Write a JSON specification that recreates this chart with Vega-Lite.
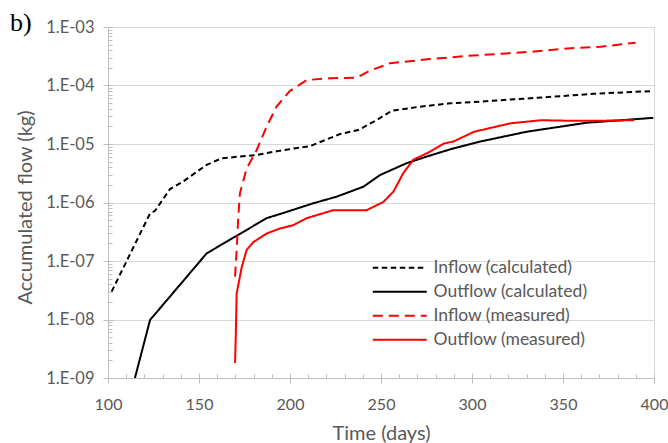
{
  "$schema": "https://vega.github.io/schema/vega-lite/v6.json",
  "width": 546,
  "height": 351,
  "autosize": {"type": "none"},
  "padding": {"left": 108, "top": 27, "right": 14, "bottom": 65},
  "background": "white",
  "config": {
    "view": {"stroke": "#d9d9d9", "strokeWidth": 1},
    "font": "Lato",
    "legend": {
      "orient": "none",
      "legendX": 283,
      "legendY": 232,
      "symbolType": "M-4,0H4",
      "symbolSize": 182,
      "symbolStrokeWidth": 2,
      "labelFontSize": 17.5,
      "labelColor": "#595959",
      "labelFont": "Lato",
      "rowPadding": 5,
      "labelOffset": 25
    }
  },
  "title": {
    "text": "b)",
    "anchor": "start",
    "frame": "group",
    "font": "Liberation Serif",
    "fontSize": 26,
    "fontWeight": "normal",
    "color": "black",
    "offset": 0,
    "dx": -98,
    "dy": 38,
    "baseline": "alphabetic"
  },
  "data": {
    "values": [
      {"s": "Inflow (calculated)", "t": 102.0, "v": 3.0e-8},
      {"s": "Inflow (calculated)", "t": 123.1, "v": 6.5e-7},
      {"s": "Inflow (calculated)", "t": 125.8, "v": 7.2e-7},
      {"s": "Inflow (calculated)", "t": 134.1, "v": 1.7e-6},
      {"s": "Inflow (calculated)", "t": 141.4, "v": 2.3e-6},
      {"s": "Inflow (calculated)", "t": 154.2, "v": 4.4e-6},
      {"s": "Inflow (calculated)", "t": 162.5, "v": 5.7e-6},
      {"s": "Inflow (calculated)", "t": 181.7, "v": 6.5e-6},
      {"s": "Inflow (calculated)", "t": 194.5, "v": 7.7e-6},
      {"s": "Inflow (calculated)", "t": 211.0, "v": 9.2e-6},
      {"s": "Inflow (calculated)", "t": 227.5, "v": 1.48e-5},
      {"s": "Inflow (calculated)", "t": 237.5, "v": 1.73e-5},
      {"s": "Inflow (calculated)", "t": 247.6, "v": 2.57e-5},
      {"s": "Inflow (calculated)", "t": 255.9, "v": 3.7e-5},
      {"s": "Inflow (calculated)", "t": 271.4, "v": 4.35e-5},
      {"s": "Inflow (calculated)", "t": 287.9, "v": 4.95e-5},
      {"s": "Inflow (calculated)", "t": 304.4, "v": 5.3e-5},
      {"s": "Inflow (calculated)", "t": 330.0, "v": 6.0e-5},
      {"s": "Inflow (calculated)", "t": 366.6, "v": 7.2e-5},
      {"s": "Inflow (calculated)", "t": 399.6, "v": 8.05e-5},
      {"s": "Outflow (calculated)", "t": 114.8, "v": 1.0e-9},
      {"s": "Outflow (calculated)", "t": 123.1, "v": 9.8e-9},
      {"s": "Outflow (calculated)", "t": 154.2, "v": 1.35e-7},
      {"s": "Outflow (calculated)", "t": 170.7, "v": 2.7e-7},
      {"s": "Outflow (calculated)", "t": 187.2, "v": 5.4e-7},
      {"s": "Outflow (calculated)", "t": 194.5, "v": 6.35e-7},
      {"s": "Outflow (calculated)", "t": 212.8, "v": 9.7e-7},
      {"s": "Outflow (calculated)", "t": 225.7, "v": 1.26e-6},
      {"s": "Outflow (calculated)", "t": 240.3, "v": 1.86e-6},
      {"s": "Outflow (calculated)", "t": 249.5, "v": 2.95e-6},
      {"s": "Outflow (calculated)", "t": 264.1, "v": 4.7e-6},
      {"s": "Outflow (calculated)", "t": 275.1, "v": 6.1e-6},
      {"s": "Outflow (calculated)", "t": 289.7, "v": 8.4e-6},
      {"s": "Outflow (calculated)", "t": 304.4, "v": 1.1e-5},
      {"s": "Outflow (calculated)", "t": 330.0, "v": 1.62e-5},
      {"s": "Outflow (calculated)", "t": 363.0, "v": 2.31e-5},
      {"s": "Outflow (calculated)", "t": 399.6, "v": 2.8e-5},
      {"s": "Inflow (measured)", "t": 169.8, "v": 5.4e-8},
      {"s": "Inflow (measured)", "t": 170.7, "v": 1.55e-7},
      {"s": "Inflow (measured)", "t": 171.6, "v": 5.8e-7},
      {"s": "Inflow (measured)", "t": 172.5, "v": 1.45e-6},
      {"s": "Inflow (measured)", "t": 176.2, "v": 3.8e-6},
      {"s": "Inflow (measured)", "t": 181.7, "v": 7.9e-6},
      {"s": "Inflow (measured)", "t": 187.2, "v": 2.0e-5},
      {"s": "Inflow (measured)", "t": 192.7, "v": 4.4e-5},
      {"s": "Inflow (measured)", "t": 200.0, "v": 8.1e-5},
      {"s": "Inflow (measured)", "t": 209.2, "v": 1.24e-4},
      {"s": "Inflow (measured)", "t": 222.0, "v": 1.33e-4},
      {"s": "Inflow (measured)", "t": 236.6, "v": 1.36e-4},
      {"s": "Inflow (measured)", "t": 244.0, "v": 1.8e-4},
      {"s": "Inflow (measured)", "t": 255.0, "v": 2.4e-4},
      {"s": "Inflow (measured)", "t": 275.4, "v": 2.8e-4},
      {"s": "Inflow (measured)", "t": 297.4, "v": 3.2e-4},
      {"s": "Inflow (measured)", "t": 334.0, "v": 3.8e-4},
      {"s": "Inflow (measured)", "t": 352.4, "v": 4.3e-4},
      {"s": "Inflow (measured)", "t": 370.7, "v": 4.6e-4},
      {"s": "Inflow (measured)", "t": 389.9, "v": 5.4e-4},
      {"s": "Outflow (measured)", "t": 169.8, "v": 1.8e-9},
      {"s": "Outflow (measured)", "t": 170.2, "v": 5.1e-9},
      {"s": "Outflow (measured)", "t": 170.7, "v": 2.8e-8},
      {"s": "Outflow (measured)", "t": 173.5, "v": 7.9e-8},
      {"s": "Outflow (measured)", "t": 176.2, "v": 1.55e-7},
      {"s": "Outflow (measured)", "t": 179.8, "v": 2.1e-7},
      {"s": "Outflow (measured)", "t": 187.2, "v": 2.95e-7},
      {"s": "Outflow (measured)", "t": 194.5, "v": 3.6e-7},
      {"s": "Outflow (measured)", "t": 201.8, "v": 4.1e-7},
      {"s": "Outflow (measured)", "t": 209.2, "v": 5.4e-7},
      {"s": "Outflow (measured)", "t": 223.8, "v": 7.4e-7},
      {"s": "Outflow (measured)", "t": 242.1, "v": 7.4e-7},
      {"s": "Outflow (measured)", "t": 251.3, "v": 1.02e-6},
      {"s": "Outflow (measured)", "t": 256.8, "v": 1.53e-6},
      {"s": "Outflow (measured)", "t": 262.3, "v": 3.2e-6},
      {"s": "Outflow (measured)", "t": 267.8, "v": 5.4e-6},
      {"s": "Outflow (measured)", "t": 275.1, "v": 6.9e-6},
      {"s": "Outflow (measured)", "t": 284.6, "v": 1.02e-5},
      {"s": "Outflow (measured)", "t": 289.7, "v": 1.1e-5},
      {"s": "Outflow (measured)", "t": 301.1, "v": 1.62e-5},
      {"s": "Outflow (measured)", "t": 321.3, "v": 2.26e-5},
      {"s": "Outflow (measured)", "t": 338.0, "v": 2.55e-5},
      {"s": "Outflow (measured)", "t": 352.4, "v": 2.5e-5},
      {"s": "Outflow (measured)", "t": 370.7, "v": 2.5e-5},
      {"s": "Outflow (measured)", "t": 389.0, "v": 2.55e-5}
    ]
  },
  "resolve": {"axis": {"x": "independent", "y": "independent"}},
  "layer": [
    {
      "mark": {"type": "line", "strokeWidth": 2, "clip": true},
      "encoding": {
        "x": {
          "field": "t",
          "type": "quantitative",
          "scale": {"domain": [100, 400], "nice": false, "zero": false},
          "axis": {
            "orient": "bottom",
            "title": "Time (days)",
            "values": [100, 150, 200, 250, 300, 350, 400],
            "grid": false,
            "domainColor": "#bfbfbf",
            "tickColor": "#bfbfbf",
            "tickSize": 5,
            "labelFontSize": 16,
            "labelColor": "#595959",
            "labelPadding": 13,
            "labelFlush": false,
            "labelOverlap": false,
            "titleFontSize": 20,
            "titleFontWeight": "normal",
            "titleColor": "#595959",
            "titleBaseline": "alphabetic",
            "titleY": 61
          }
        },
        "y": {
          "field": "v",
          "type": "quantitative",
          "scale": {"type": "log", "domain": [1e-9, 1e-3], "nice": false},
          "axis": {
            "orient": "left",
            "title": "Accumulated flow (kg)",
            "values": [1e-9, 1e-8, 1e-7, 1e-6, 1e-5, 1e-4, 1e-3],
            "labelExpr": "'1.E-0' + abs(round(log(datum.value)/LN10))",
            "grid": true,
            "gridColor": "#d9d9d9",
            "domainColor": "#bfbfbf",
            "tickColor": "#bfbfbf",
            "tickSize": 5,
            "labelFontSize": 16.5,
            "labelColor": "#595959",
            "labelPadding": 9,
            "labelFlush": false,
            "labelOverlap": false,
            "titleFontSize": 20,
            "titleFontWeight": "normal",
            "titleColor": "#595959",
            "titleBaseline": "alphabetic",
            "titleX": -77,
            "titleY": 180
          }
        },
        "color": {
          "field": "s",
          "type": "nominal",
          "scale": {
            "domain": ["Inflow (calculated)", "Outflow (calculated)", "Inflow (measured)", "Outflow (measured)"],
            "range": ["#000000", "#000000", "#ff0000", "#ff0000"]
          },
          "legend": {"title": null}
        },
        "strokeDash": {
          "field": "s",
          "type": "nominal",
          "scale": {
            "domain": ["Inflow (calculated)", "Outflow (calculated)", "Inflow (measured)", "Outflow (measured)"],
            "range": [[5.5, 3.5], [1, 0], [10, 6], [1, 0]]
          },
          "legend": {"title": null}
        }
      }
    },
    {
      "mark": {"type": "point", "opacity": 0},
      "encoding": {
        "x": {
          "field": "t",
          "type": "quantitative",
          "axis": {
            "orient": "bottom",
            "title": null,
            "labels": false,
            "domain": false,
            "grid": false,
            "values": [100, 110, 120, 130, 140, 150, 160, 170, 180, 190, 200, 210, 220, 230, 240, 250, 260, 270, 280, 290, 300, 310, 320, 330, 340, 350, 360, 370, 380, 390, 400],
            "tickColor": "#bfbfbf",
            "tickSize": {"condition": {"test": "datum.value % 50 === 0", "value": -5}, "value": -4}
          }
        },
        "y": {
          "field": "v",
          "type": "quantitative",
          "axis": {
            "orient": "left",
            "title": null,
            "labels": false,
            "domain": false,
            "grid": false,
            "values": [1e-9, 2e-9, 3e-9, 4e-9, 5e-9, 6e-9, 7e-9, 8e-9, 9e-9, 1e-8, 2e-8, 3e-8, 4e-8, 5e-8, 6e-8, 7e-8, 8e-8, 9e-8, 1e-7, 2e-7, 3e-7, 4e-7, 5e-7, 6e-7, 7e-7, 8e-7, 9e-7, 1e-6, 2e-6, 3e-6, 4e-6, 5e-6, 6e-6, 7e-6, 8e-6, 9e-6, 1e-5, 2e-5, 3e-5, 4e-5, 5e-5, 6e-5, 7e-5, 8e-5, 9e-5, 1e-4, 2e-4, 3e-4, 4e-4, 5e-4, 6e-4, 7e-4, 8e-4, 9e-4, 1e-3],
            "tickColor": "#bfbfbf",
            "tickSize": {"condition": {"test": "abs(log(datum.value)/LN10 - round(log(datum.value)/LN10)) < 0.001", "value": -5}, "value": -4}
          }
        }
      }
    }
  ]
}
